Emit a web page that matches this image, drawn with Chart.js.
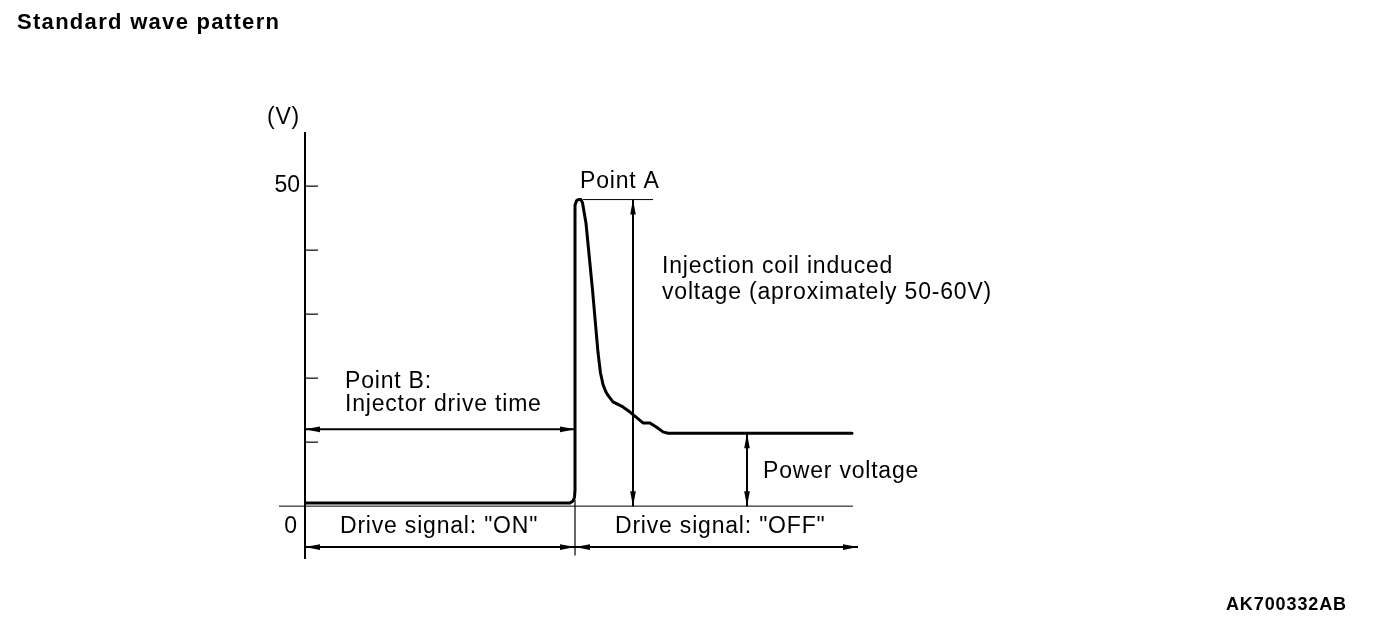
<!DOCTYPE html>
<html>
<head>
<meta charset="utf-8">
<script src="https://cdn.jsdelivr.net/npm/chart.js@4/dist/chart.umd.min.js"></script>
<style>
  body { margin: 0; background: #fff; }
  canvas { display: block; }
</style>
</head>
<body>
<canvas id="onda" width="1376" height="628"></canvas>
<script>
// tiempo (unidades arbitrarias) y voltaje de la forma de onda
var tiempos = [0, 26.5, 26.8, 26.95, 27.0, 27.0, 27.15, 27.35, 27.6, 27.75, 28.1, 28.75, 29.3, 29.55, 29.8, 30.05, 30.3, 30.8, 31.8, 32.5, 33.2, 33.8, 34.5, 35.2, 35.8, 36.3, 54.7];
var voltios = [0.5, 0.5, 0.8, 1.4, 2.5, 47.0, 47.7, 47.9, 47.9, 47.4, 44.2, 33.8, 24.0, 20.8, 19.0, 18.0, 17.3, 16.3, 15.5, 14.7, 13.8, 13.0, 13.0, 12.3, 11.6, 11.4, 11.4];
var ticksY = [0, 10, 20, 30, 40, 50];
var etiquetasY = ['0', '50'];

var tON = 27.0;      // fin de la señal de mando
var tFin = 55.3;
var vPico = 47.9;
var vBateria = 11.4;

var fuente = '"Liberation Sans", Arial, Helvetica, sans-serif';

var puntos = [];
for (let i = 0; i < tiempos.length; i++) {
    puntos.push({x: tiempos[i], y: voltios[i]});
}

function flecha(ctx, x1, y1, x2, y2) {
    // punta de flecha rellena en (x2, y2)
    let ang = Math.atan2(y2 - y1, x2 - x1);
    let largo = 15, ancho = 2.8;
    ctx.beginPath();
    ctx.moveTo(x2, y2);
    ctx.lineTo(x2 - largo * Math.cos(ang) + ancho * Math.sin(ang), y2 - largo * Math.sin(ang) - ancho * Math.cos(ang));
    ctx.lineTo(x2 - largo * Math.cos(ang) - ancho * Math.sin(ang), y2 - largo * Math.sin(ang) + ancho * Math.cos(ang));
    ctx.closePath();
    ctx.fill();
}

function dobleFlecha(ctx, x1, y1, x2, y2) {
    ctx.lineWidth = 2;
    ctx.beginPath();
    ctx.moveTo(x1, y1);
    ctx.lineTo(x2, y2);
    ctx.stroke();
    flecha(ctx, x1, y1, x2, y2);
    flecha(ctx, x2, y2, x1, y1);
}

function linea(ctx, x1, y1, x2, y2, w) {
    ctx.lineWidth = w;
    ctx.beginPath();
    ctx.moveTo(x1, y1);
    ctx.lineTo(x2, y2);
    ctx.stroke();
}

function texto(ctx, t, x, y, peso, tam, esp, alin) {
    ctx.font = peso + ' ' + tam + 'px ' + fuente;
    ctx.letterSpacing = esp + 'px';
    ctx.textAlign = alin || 'left';
    ctx.textBaseline = 'alphabetic';
    ctx.fillText(t, x, y);
}

var fondoBlanco = {
    id: 'fondoBlanco',
    beforeDraw: function (chart) {
        let ctx = chart.ctx;
        ctx.save();
        ctx.fillStyle = '#fff';
        ctx.fillRect(0, 0, chart.width, chart.height);
        ctx.restore();
    }
};

var anotaciones = {
    id: 'anotaciones',
    beforeDatasetsDraw: function (chart) {
        let ctx = chart.ctx;
        let sx = chart.scales.x, sy = chart.scales.y;
        let px = function (v) { return sx.getPixelForValue(v); };
        let py = function (v) { return sy.getPixelForValue(v); };
        ctx.save();
        ctx.strokeStyle = '#000';
        ctx.fillStyle = '#000';

        // linea de cero y marcas del eje hacia dentro
        linea(ctx, px(-2.6), py(0), px(54.8), py(0), 1);
        for (let i = 1; i < ticksY.length; i++) {
            linea(ctx, px(0), py(ticksY[i]), px(1.3), py(ticksY[i]), 1.2);
        }
        // separador ON / OFF
        linea(ctx, px(tON), py(1), px(tON), py(-7.7), 1.2);
        // referencia del punto A
        linea(ctx, px(27.8), py(vPico), px(34.8), py(vPico), 1);

        // flechas
        dobleFlecha(ctx, px(0), py(12.0), px(tON), py(12.0));
        dobleFlecha(ctx, px(0), py(-6.4), px(tON), py(-6.4));
        dobleFlecha(ctx, px(tON), py(-6.4), px(tFin), py(-6.4));
        dobleFlecha(ctx, px(32.8), py(vPico), px(32.8), py(0));
        dobleFlecha(ctx, px(44.2), py(vBateria), px(44.2), py(0));

        // textos
        texto(ctx, 'Standard wave pattern', 17, 29, 'bold', 22, 1.3);
        texto(ctx, 'AK700332AB', 1347, 610, 'bold', 18, 0.9, 'right');
        texto(ctx, '(V)', 267, 124, 'normal', 23, 0.8);
        texto(ctx, etiquetasY[0], 297, 533, 'normal', 23, 0, 'right');
        texto(ctx, 'Point A', 580, 188, 'normal', 23, 0.8);
        texto(ctx, 'Injection coil induced', 662, 273, 'normal', 23, 0.8);
        texto(ctx, 'voltage (aproximately 50-60V)', 662, 299, 'normal', 23, 0.8);
        texto(ctx, 'Point B:', 345, 388, 'normal', 23, 0.8);
        texto(ctx, 'Injector drive time', 345, 411, 'normal', 23, 0.8);
        texto(ctx, 'Power voltage', 763, 478, 'normal', 23, 0.8);
        texto(ctx, 'Drive signal: "ON"', 340, 533, 'normal', 23, 0.8);
        texto(ctx, 'Drive signal: "OFF"', 615, 533, 'normal', 23, 0.8);
        ctx.restore();
    }
};

var ctxOnda = document.getElementById('onda');
var chartOnda = new Chart(ctxOnda, {
    type: 'line',
    data: {
        datasets: [{
            data: puntos,
            borderColor: '#000',
            borderWidth: 3,
            borderJoinStyle: 'round',
            borderCapStyle: 'round',
            pointRadius: 0,
            tension: 0,
            fill: false
        }]
    },
    options: {
        responsive: false,
        animation: false,
        devicePixelRatio: 1,
        layout: { padding: { top: 133, bottom: 70, left: 0, right: 516 } },
        plugins: {
            legend: { display: false },
            tooltip: { enabled: false },
            title: { display: false }
        },
        scales: {
            x: {
                type: 'linear',
                display: false,
                min: 0,
                max: 55.5
            },
            y: {
                type: 'linear',
                min: -8.1,
                max: 58.3,
                afterBuildTicks: function (scale) {
                    scale.ticks = ticksY.map(function (v) { return {value: v}; });
                },
                afterFit: function (scale) {
                    scale.width = 305;
                },
                ticks: {
                    padding: 5,
                    color: '#000',
                    font: { family: fuente, size: 23 },
                    callback: function (v) { return v == 50 ? etiquetasY[1] : ''; }
                },
                grid: { drawOnChartArea: false, drawTicks: false },
                border: { display: true, color: '#000', width: 2 }
            }
        }
    },
    plugins: [fondoBlanco, anotaciones]
});
</script>
</body>
</html>
